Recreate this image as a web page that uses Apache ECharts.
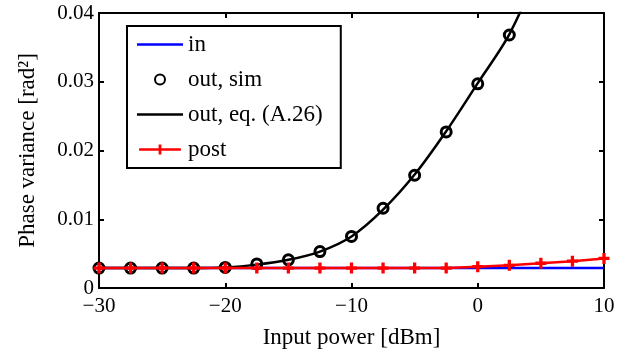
<!DOCTYPE html>
<html>
<head>
<meta charset="utf-8">
<script src="https://cdn.jsdelivr.net/npm/echarts@6/dist/echarts.min.js"></script>
<style>
  html, body { margin: 0; padding: 0; background: #fff; }
  #chart { width: 628px; height: 354px; }
</style>
</head>
<body>
<div id="chart"></div>
<script>
// input power, dBm
const xPower = [-30, -27.5, -25, -22.5, -20, -17.5, -15, -12.5, -10, -7.5, -5, -2.5, 0, 2.5, 5, 7.5, 10];
// phase variance, rad^2
const inVar = [0.0029, 0.0029, 0.0029, 0.0029, 0.0029, 0.0029, 0.0029, 0.0029, 0.0029, 0.0029, 0.0029, 0.0029, 0.0029, 0.0029, 0.0029, 0.0029, 0.0029];
const simX = [-30, -27.5, -25, -22.5, -20, -17.5, -15, -12.5, -10, -7.5, -5, -2.5, 0, 2.5];
const simVar = [0.0029, 0.0029, 0.0029, 0.0029, 0.003, 0.0035, 0.0041, 0.0053, 0.0075, 0.0116, 0.0164, 0.0227, 0.0297, 0.0368];
const eqX = [-30, -27.5, -25, -22.5, -20, -17.5, -15, -12.5, -10, -7.5, -5, -2.5, 0, 2.5, 5];
const eqVar = [0.0029, 0.0029, 0.0029, 0.0029, 0.003, 0.0034, 0.0041, 0.0053, 0.0075, 0.0114, 0.0165, 0.0228, 0.0298, 0.0369, 0.047];
const postVar = [0.0029, 0.0029, 0.0029, 0.0029, 0.0029, 0.0029, 0.0029, 0.0029, 0.0029, 0.0029, 0.0029, 0.0029, 0.0031, 0.0033, 0.0036, 0.0039, 0.0043];
const xTicks = [-30, -20, -10, 0, 10];
const yTicks = [0, 0.01, 0.02, 0.03, 0.04];

const font = 'Liberation Serif';
const plus = 'path://M-1.5,-5h3v3.5h3.5v3h-3.5v3.5h-3v-3.5h-3.5v-3h3.5z';
const lineIcon = 'path://M0,0h46v2.5h-46z';
const plusLineIcon = 'path://M0,-0.75h21.5v-4.25h3v4.25h21.5v2.5h-21.5v4.25h-3v-4.25h-21.5z';

const pairs = (xs, ys) => xs.map((x, i) => [x, ys[i]]);
const minus = (v) => String(v).replace('-', '\u2212');

const myChart = echarts.init(document.getElementById('chart'));

const axisBase = {
  axisLine: { show: true, onZero: false, lineStyle: { color: '#000', width: 2 } },
  axisTick: { show: true, inside: true, length: 5, lineStyle: { color: '#000', width: 2 } },
  splitLine: { show: false },
};

const option = {
  backgroundColor: '#fff',
  animation: false,
  grid: { left: 99, right: 24, top: 13, bottom: 66 },
  legend: {
    orient: 'vertical',
    left: 127,
    top: 26,
    padding: [7, 18, 7, 10],
    itemGap: 12,
    itemWidth: 46,
    itemHeight: 10,
    borderColor: '#000',
    borderWidth: 2,
    backgroundColor: '#fff',
    textStyle: { fontFamily: font, fontSize: 23, color: '#000' },
    data: [
      { name: 'in', icon: lineIcon, itemStyle: { color: '#0000ff' } },
      { name: 'out, sim' },
      { name: 'out, eq. (A.26)', icon: lineIcon, itemStyle: { color: '#000' } },
      { name: 'post', icon: plusLineIcon, itemStyle: { color: '#ff0000' } },
    ],
  },
  xAxis: [{
    ...axisBase,
    type: 'value',
    min: -30,
    max: 10,
    interval: 10,
    name: 'Input power [dBm]',
    nameLocation: 'middle',
    nameGap: 38,
    nameTextStyle: { fontFamily: font, fontSize: 23, color: '#000' },
    axisLabel: {
      margin: 8,
      fontFamily: font,
      fontSize: 21,
      color: '#000',
      formatter: (v) => (xTicks.includes(v) ? minus(v) : ''),
    },
  }, {
    ...axisBase,
    type: 'value',
    position: 'top',
    min: -30,
    max: 10,
    interval: 10,
    axisLabel: { show: false },
  }],
  yAxis: [{
    ...axisBase,
    type: 'value',
    min: 0,
    max: 0.04,
    interval: 0.01,
    name: 'Phase variance [rad\u00b2]',
    nameLocation: 'middle',
    nameGap: 60,
    nameTextStyle: { fontFamily: font, fontSize: 23, color: '#000' },
    axisLabel: {
      margin: 5,
      fontFamily: font,
      fontSize: 21,
      color: '#000',
      formatter: (v) => {
        const t = yTicks.find((y) => Math.abs(y - v) < 1e-9);
        if (t === undefined) return '';
        return t === 0 ? '0' : t.toFixed(2);
      },
    },
  }, {
    ...axisBase,
    type: 'value',
    position: 'right',
    min: 0,
    max: 0.04,
    interval: 0.01,
    axisLabel: { show: false },
  }],
  series: [
    {
      name: 'in',
      type: 'line',
      symbol: 'none',
      z: 2,
      lineStyle: { color: '#0000ff', width: 2.5 },
      itemStyle: { color: '#0000ff' },
      data: pairs(xPower, inVar),
    },
    {
      name: 'out, eq. (A.26)',
      type: 'line',
      symbol: 'none',
      smooth: 0.3,
      z: 2,
      lineStyle: { color: '#000', width: 2.5 },
      itemStyle: { color: '#000' },
      data: pairs(eqX, eqVar),
    },
    {
      name: 'out, sim',
      type: 'scatter',
      symbol: 'circle',
      symbolSize: 10,
      z: 3,
      itemStyle: { color: 'rgba(255,255,255,0)', borderColor: '#000', borderWidth: 3, opacity: 1 },
      data: pairs(simX, simVar),
    },
    {
      name: 'post',
      type: 'line',
      symbol: plus,
      symbolSize: 11,
      showAllSymbol: true,
      z: 4,
      lineStyle: { color: '#ff0000', width: 2.5 },
      itemStyle: { color: '#ff0000' },
      data: pairs(xPower, postVar),
    },
  ],
};

myChart.setOption(option);
</script>
</body>
</html>
